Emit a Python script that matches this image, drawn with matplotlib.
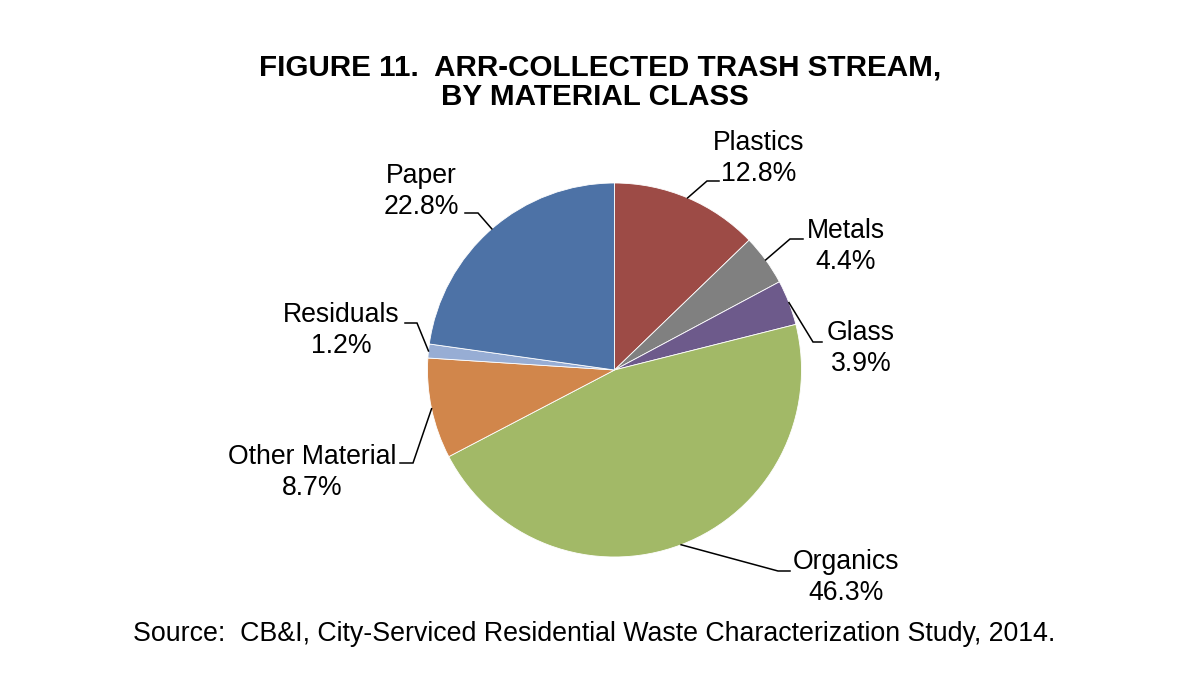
import matplotlib
matplotlib.use("Agg")
import matplotlib.pyplot as plt
import numpy as np

plt.rcParams['font.family'] = ['Liberation Sans', 'DejaVu Sans']

categories = ["Plastics", "Metals", "Glass", "Organics", "Other Material", "Residuals", "Paper"]
values = [12.8, 4.4, 3.9, 46.3, 8.7, 1.2, 22.8]
colors = ["#9D4B46", "#808080", "#6D5A8B", "#A2B967", "#D1864B", "#97ADD4", "#4D72A6"]

W, H = 1184, 692
fig = plt.figure(figsize=(W / 100, H / 100), dpi=100)
ax = fig.add_axes([0, 0, 1, 1])

cx, cy, R = 614.5, 370, 187
def Y(py):
    return H - py

wedges, _ = ax.pie(values, colors=colors, startangle=90, counterclock=False,
                   center=(cx, Y(cy)), radius=R,
                   wedgeprops=dict(edgecolor="white", linewidth=0.6))

# label layout: (text center of first line, elbow, line end)
layout = {
    "Plastics":       ((759, 143), (707, 181), (719, 181)),
    "Metals":         ((846, 231), (790, 239), (803, 239)),
    "Glass":          ((861, 333), (813, 342), (822, 342)),
    "Organics":       ((846, 562), (778, 571), (790, 571)),
    "Other Material": ((312, 457), (413, 463), (400, 463)),
    "Residuals":      ((341, 315), (417, 323), (405, 323)),
    "Paper":          ((421, 176), (478, 213), (465, 213)),
}

total = sum(values)
start = 90.0
for cat, v in zip(categories, values):
    span = 360.0 * v / total
    mid = np.deg2rad(start - span / 2)
    start -= span
    ex, ey = cx + R * np.cos(mid), Y(cy) + R * np.sin(mid)
    (tx, ty), (bx, by), (lx, ly) = layout[cat]
    ax.plot([ex, bx, lx], [ey, Y(by), Y(ly)], color="black", lw=1.1,
            solid_joinstyle="miter", zorder=3)
    ax.text(tx, Y(ty), cat, ha="center", va="center", fontsize=19.2, color="black")
    ax.text(tx, Y(ty + 31), f"{v:.1f}%", ha="center", va="center", fontsize=19.2, color="black")

ax.text(600, Y(68), "FIGURE 11.  ARR-COLLECTED TRASH STREAM,", ha="center", va="center",
        fontsize=21.3, fontweight="bold")
ax.text(595, Y(97), "BY MATERIAL CLASS", ha="center", va="center",
        fontsize=21.3, fontweight="bold")
ax.text(594, Y(634), "Source:  CB&I, City-Serviced Residential Waste Characterization Study, 2014.",
        ha="center", va="center", fontsize=19.3)

ax.set_xlim(0, W)
ax.set_ylim(0, H)
ax.set_aspect("equal")
ax.axis("off")

fig.savefig("out.png", dpi=100, facecolor="white")
